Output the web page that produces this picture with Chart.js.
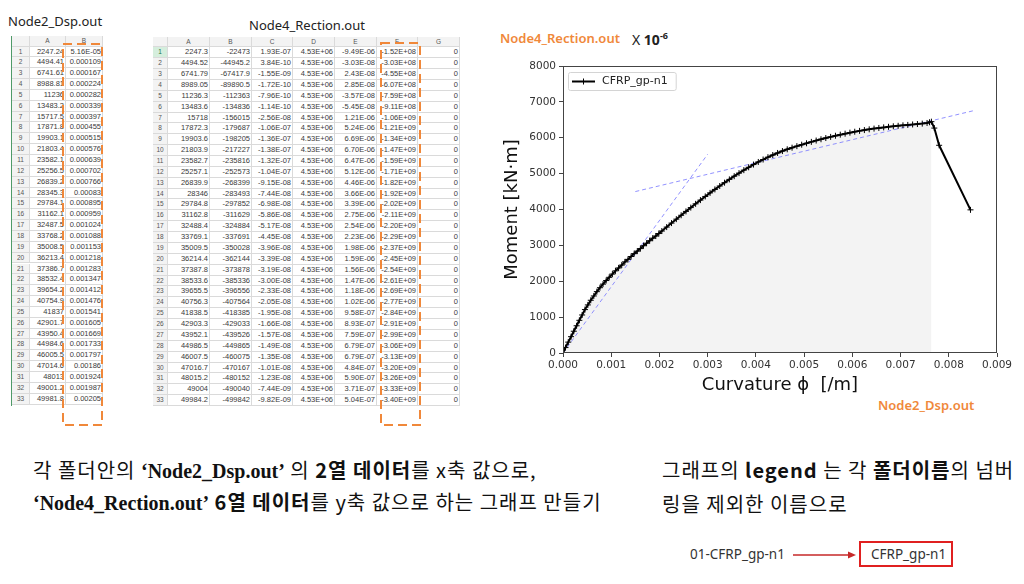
<!DOCTYPE html>
<html>
<head>
<meta charset="utf-8">
<script src="https://cdn.jsdelivr.net/npm/chart.js@4.4.0/dist/chart.umd.min.js"></script>
<style>
  body { margin: 0; width: 1024px; height: 584px; background: #fff; position: relative; overflow: hidden;
         font-family: "Noto Sans CJK KR", "Noto Sans", sans-serif; color: #111; }
  .abs { position: absolute; white-space: nowrap; }
  .cell { position: absolute; box-sizing: border-box; border-right: 1px solid #dadada; border-bottom: 1px solid #dadada;
          font-family: "Liberation Sans", Arial, sans-serif; font-size: 7.5px; color: #3a3a3a; text-align: right;
          overflow: hidden; white-space: nowrap; padding-right: 1px; }
  .hdr { background: #f3f3f3; color: #555; text-align: center; font-size: 6.5px; padding: 0; }
  .sel { background: #d5eedd; color: #217346; }
  .title { font-family: "Noto Sans", sans-serif; font-size: 13px; color: #222; }
  .orange { font-family: "Noto Sans", sans-serif; font-weight: 600; font-size: 13px; color: #f0883a; }
  .kr { font-size: 20px; line-height: 24px; letter-spacing: 1px; }
  .kr b { font-weight: 700; }
  .serif { font-family: "Liberation Serif", serif; font-weight: 700; letter-spacing: 0; }
  .small { font-family: "Noto Sans", sans-serif; font-size: 13.5px; color: #333; }
</style>
</head>
<body>
<div class="abs title" style="left:8px;top:12px;">Node2_Dsp.out</div>
<div class="abs title" style="left:249px;top:16px;">Node4_Rection.out</div>
<div id="sheets"></div>
<svg class="abs" style="left:0;top:0;" width="1024" height="584">
  <rect x="63" y="44" width="39" height="381" fill="none" stroke="#f0883a" stroke-width="2" stroke-dasharray="9,5"/>
  <rect x="381" y="43" width="39" height="382" fill="none" stroke="#f0883a" stroke-width="2" stroke-dasharray="9,5"/>
  <line x1="793" y1="555" x2="850" y2="555" stroke="#c62828" stroke-width="1.5"/>
  <polygon points="856,555 848,551.5 848,558.5" fill="#c62828"/>
  <rect x="860" y="542" width="92" height="24" fill="none" stroke="#e02020" stroke-width="2"/>
</svg>

<div class="abs orange" style="left:500px;top:29px;">Node4_Rection.out</div>
<div class="abs" style="left:632px;top:29px;font-family:'Noto Sans',sans-serif;font-size:14px;color:#222;">X <b>10<sup style="font-size:9px;">-6</sup></b></div>
<div class="abs orange" style="left:878px;top:396px;">Node2_Dsp.out</div>

<div style="position:absolute;left:490px;top:55px;width:530px;height:345px;">
  <canvas id="chart" width="530" height="345"></canvas>
</div>

<div class="abs kr" style="left:33px;top:458px;">각 폴더안의 <span class="serif">‘Node2_Dsp.out’</span> 의 <b>2열 데이터</b>를 x축 값으로,</div>
<div class="abs kr" style="left:33px;top:490px;"><span class="serif">‘Node4_Rection.out’</span> <b>6열 데이터</b>를 y축 값으로 하는 그래프 만들기</div>
<div class="abs kr" style="left:662px;top:458px;">그래프의 <b>legend</b> 는 각 <b>폴더이름</b>의 넘버</div>
<div class="abs kr" style="left:662px;top:492px;">링을 제외한 이름으로</div>
<div class="abs small" style="left:690px;top:545px;">01-CFRP_gp-n1</div>
<div class="abs small" style="left:871px;top:545px;">CFRP_gp-n1</div>

<script>
// ---- spreadsheet: Node2_Dsp.out ----
const dspA = ['2247.24','4494.41','6741.61','8988.81','11236','13483.2','15717.5','17871.8','19903.1','21803.4','23582.1',
  '25256.5','26839.2','28345.3','29784.1','31162.1','32487.5','33768.2','35008.5','36213.4','37386.7','38532.4',
  '39654.2','40754.9','41837','42901.7','43950.4','44984.6','46005.5','47014.6','48013','49001.2','49981.8'];
const dspB = ['5.16E-05','0.000109','0.000167','0.000224','0.000282','0.000339','0.000397','0.000455','0.000515',
  '0.000576','0.000639','0.000702','0.000766','0.00083','0.000895','0.000959','0.001024','0.001088','0.001153',
  '0.001218','0.001283','0.001347','0.001412','0.001476','0.001541','0.001605','0.001669','0.001733','0.001797',
  '0.00186','0.001924','0.001987','0.00205'];

// ---- spreadsheet: Node4_Rection.out ----
const recA = ['2247.3','4494.52','6741.79','8989.05','11236.3','13483.6','15718','17872.3','19903.6','21803.9','23582.7',
  '25257.1','26839.9','28346','29784.8','31162.8','32488.4','33769.1','35009.5','36214.4','37387.8','38533.6',
  '39655.5','40756.3','41838.5','42903.3','43952.1','44986.5','46007.5','47016.7','48015.2','49004','49984.2'];
const recB = ['-22473','-44945.2','-67417.9','-89890.5','-112363','-134836','-156015','-179687','-198205','-217227',
  '-235816','-252573','-268399','-283493','-297852','-311629','-324884','-337691','-350028','-362144','-373878',
  '-385336','-396556','-407564','-418385','-429033','-439526','-449865','-460075','-470167','-480152','-490040','-499842'];
const recC = ['1.93E-07','3.84E-10','-1.55E-09','-1.72E-10','-7.96E-10','-1.14E-10','-2.56E-08','-1.06E-07','-1.36E-07',
  '-1.38E-07','-1.32E-07','-1.04E-07','-9.15E-08','-7.44E-08','-6.98E-08','-5.86E-08','-5.17E-08','-4.45E-08',
  '-3.96E-08','-3.39E-08','-3.19E-08','-3.00E-08','-2.33E-08','-2.05E-08','-1.95E-08','-1.66E-08','-1.57E-08',
  '-1.49E-08','-1.35E-08','-1.01E-08','-1.23E-08','-7.44E-09','-9.82E-09'];
const recD = Array(33).fill('4.53E+06');
const recE = ['-9.49E-06','-3.03E-08','2.43E-08','2.85E-08','-3.57E-08','-5.45E-08','1.21E-06','5.24E-06','6.69E-06',
  '6.70E-06','6.47E-06','5.12E-06','4.46E-06','3.66E-06','3.39E-06','2.75E-06','2.54E-06','2.23E-06','1.98E-06',
  '1.59E-06','1.56E-06','1.47E-06','1.18E-06','1.02E-06','9.58E-07','8.93E-07','7.59E-07','6.79E-07','6.79E-07',
  '4.84E-07','5.90E-07','3.71E-07','5.04E-07'];
const recF = ['-1.52E+08','-3.03E+08','-4.55E+08','-6.07E+08','-7.59E+08','-9.11E+08','-1.06E+09','-1.21E+09',
  '-1.34E+09','-1.47E+09','-1.59E+09','-1.71E+09','-1.82E+09','-1.92E+09','-2.02E+09','-2.11E+09','-2.20E+09',
  '-2.29E+09','-2.37E+09','-2.45E+09','-2.54E+09','-2.61E+09','-2.69E+09','-2.77E+09','-2.84E+09','-2.91E+09',
  '-2.99E+09','-3.06E+09','-3.13E+09','-3.20E+09','-3.26E+09','-3.33E+09','-3.40E+09'];
const recG = Array(33).fill('0');

// ---- chart: curvature [1/m] vs moment [kN·m] ----
const curvature = [0, 0.0000516, 0.000109, 0.000167, 0.000224, 0.000282, 0.000339, 0.000397, 0.000455, 0.000515,
  0.000576, 0.000639, 0.000702, 0.000766, 0.00083, 0.000895, 0.000959, 0.001024, 0.001088, 0.001153, 0.001218,
  0.001283, 0.001347, 0.001412, 0.001476, 0.001541, 0.001605, 0.001669, 0.001733, 0.001797, 0.00186, 0.001924,
  0.001987, 0.00205,
  0.00215, 0.00225, 0.00235, 0.00245, 0.00255, 0.00265, 0.00275, 0.00285, 0.00295, 0.00305, 0.00315, 0.00325,
  0.00335, 0.00345, 0.00355, 0.00365, 0.00375, 0.00385, 0.00395, 0.00405, 0.00415, 0.00425, 0.00435, 0.00445,
  0.00455, 0.00465, 0.00475, 0.00485, 0.00495, 0.00505, 0.00515, 0.00525, 0.00535, 0.00545, 0.00555, 0.00565,
  0.00575, 0.00585, 0.00595, 0.00605, 0.00615, 0.00625, 0.00635, 0.00645, 0.00655, 0.00665, 0.00675, 0.00685,
  0.00695, 0.00705, 0.00715, 0.00725, 0.00735, 0.00745, 0.00755, 0.0076, 0.00764,
  0.0077, 0.0078, 0.00845];
const moment = [0, 152, 303, 455, 607, 759, 911, 1060, 1210, 1340, 1470, 1590, 1710, 1820, 1920, 2020, 2110, 2200,
  2290, 2370, 2450, 2540, 2610, 2690, 2770, 2840, 2910, 2990, 3060, 3130, 3200, 3260, 3330, 3400,
  3510, 3621, 3731, 3839, 3947, 4053, 4158, 4262, 4364, 4463, 4560, 4655, 4748, 4839, 4928, 5014, 5097, 5177,
  5253, 5325, 5393, 5458, 5519, 5576, 5629, 5678, 5723, 5766, 5807, 5846, 5885, 5922, 5958, 5992, 6024, 6056,
  6086, 6114, 6142, 6168, 6192, 6214, 6235, 6255, 6273, 6289, 6305, 6319, 6333, 6346, 6358, 6370, 6382, 6394,
  6412, 6432, 6448,
  6270, 5790, 3990];
const peakIndex = 90; // last point before the drop (shaded area ends here)

// dashed reference lines (two-point tangents)
const tangent1X = [0, 0.003];
const tangent1Y = [0, 5540];
const tangent2X = [0.0015, 0.0085];
const tangent2Y = [4500, 6750];

const seriesLabel = 'CFRP_gp-n1';

// ---- build spreadsheets ----
function makeSheet(left, top, widths, headerH, rowH, headers, cols, selectFirst) {
  const host = document.getElementById('sheets');
  const add = (x, y, w, h, text, cls) => {
    const d = document.createElement('div');
    d.className = 'cell ' + (cls || '');
    d.style.left = x + 'px'; d.style.top = y + 'px';
    d.style.width = w + 'px'; d.style.height = h + 'px';
    d.style.lineHeight = (h - 1) + 'px';
    d.textContent = text;
    host.appendChild(d);
  };
  let x = left;
  headers.forEach((h, i) => { add(x, top, widths[i], headerH, h, 'hdr'); x += widths[i]; });
  for (let r = 0; r < cols[0].length; r++) {
    const y = top + headerH + r * rowH;
    x = left;
    add(x, y, widths[0], rowH, String(r + 1), 'hdr' + (selectFirst && r === 0 ? ' sel' : ''));
    x += widths[0];
    cols.forEach((c, i) => { add(x, y, widths[i + 1], rowH, c[r], ''); x += widths[i + 1]; });
  }
}
makeSheet(12, 36, [18, 36, 37], 10.5, 10.85, ['', 'A', 'B'], [dspA, dspB], false);
makeSheet(153, 37, [15, 42, 42, 41, 42, 42, 41, 42], 10.3, 10.87,
  ['', 'A', 'B', 'C', 'D', 'E', 'F', 'G'], [recA, recB, recC, recD, recE, recF, recG], true);
{
  const g = document.createElement('div');
  g.style.cssText = 'position:absolute;left:11px;top:36px;width:1px;height:370px;background:#4f9a68;';
  document.getElementById('sheets').appendChild(g);
}

// ---- chart ----
const pts = (xs, ys) => xs.map((x, i) => ({ x: x, y: ys[i] }));

const frameAndLegend = {
  id: 'frameAndLegend',
  afterDraw(chart) {
    const { ctx, chartArea: a } = chart;
    ctx.save();
    ctx.strokeStyle = '#444';
    ctx.lineWidth = 1;
    ctx.strokeRect(Math.round(a.left) + 0.5, Math.round(a.top) + 0.5,
                   Math.round(a.width) - 1, Math.round(a.height) - 1);
    // legend box
    ctx.font = '11px "DejaVu Sans"';
    const label = chart.data.datasets[0].label;
    const bx = a.left + 5, by = a.top + 6;
    const bw = 36 + ctx.measureText(label).width + 6, bh = 18;
    ctx.beginPath();
    ctx.roundRect(bx + 0.5, by + 0.5, bw, bh, 2);
    ctx.fillStyle = 'rgba(255,255,255,0.85)';
    ctx.fill();
    ctx.strokeStyle = '#d4d4d4';
    ctx.stroke();
    const ly = by + bh / 2 + 0.5;
    ctx.strokeStyle = '#000';
    ctx.lineWidth = 2;
    ctx.beginPath(); ctx.moveTo(bx + 4, ly); ctx.lineTo(bx + 27, ly); ctx.stroke();
    ctx.lineWidth = 1;
    ctx.beginPath();
    ctx.moveTo(bx + 15.5, ly - 3); ctx.lineTo(bx + 15.5, ly + 3);
    ctx.moveTo(bx + 12.5, ly); ctx.lineTo(bx + 18.5, ly);
    ctx.stroke();
    ctx.fillStyle = '#222';
    ctx.textBaseline = 'middle';
    ctx.fillText(label, bx + 34, ly);
    ctx.restore();
  }
};

new Chart(document.getElementById('chart'), {
  type: 'line',
  data: {
    datasets: [
      {
        label: seriesLabel,
        data: pts(curvature, moment),
        borderColor: '#000',
        borderWidth: 2,
        pointStyle: 'cross',
        pointRadius: 3,
        pointBorderWidth: 1,
        pointBorderColor: '#000',
        fill: false,
        tension: 0
      },
      {
        label: 'tangent1',
        data: pts(tangent1X, tangent1Y),
        borderColor: 'rgba(110,110,255,0.75)',
        borderWidth: 1,
        borderDash: [4, 3],
        pointRadius: 0,
        fill: false
      },
      {
        label: 'tangent2',
        data: pts(tangent2X, tangent2Y),
        borderColor: 'rgba(110,110,255,0.75)',
        borderWidth: 1,
        borderDash: [4, 3],
        pointRadius: 0,
        fill: false
      },
      {
        label: 'area',
        data: pts(curvature.slice(0, peakIndex + 1), moment.slice(0, peakIndex + 1)),
        borderWidth: 0,
        borderColor: 'rgba(0,0,0,0)',
        backgroundColor: '#f3f3f3',
        pointRadius: 0,
        fill: 'origin'
      }
    ]
  },
  options: {
    responsive: false,
    animation: false,
    layout: { padding: { top: 11, right: 23, bottom: 0, left: 0 } },
    plugins: { legend: { display: false }, tooltip: { enabled: false } },
    scales: {
      x: {
        type: 'linear',
        min: 0,
        max: 0.009,
        border: { display: false },
        grid: { drawOnChartArea: false, tickLength: 4, color: '#444' },
        ticks: {
          stepSize: 0.001,
          padding: 2,
          maxRotation: 0,
          color: '#333',
          font: { family: 'DejaVu Sans', size: 10.5 },
          callback: v => v.toFixed(3)
        },
        title: {
          display: true,
          text: 'Curvature \u03D5  [/m]',
          color: '#111',
          font: { family: 'DejaVu Sans', size: 18 },
          padding: { top: 0, bottom: 4 }
        },
        afterFit: s => { s.height = 47; }
      },
      y: {
        min: 0,
        max: 8000,
        border: { display: false },
        grid: { drawOnChartArea: false, tickLength: 4, color: '#444' },
        ticks: {
          stepSize: 1000,
          padding: 3,
          color: '#333',
          font: { family: 'DejaVu Sans', size: 10.5 },
          callback: v => String(v)
        },
        title: {
          display: true,
          text: 'Moment [kN\u00B7m]',
          color: '#111',
          font: { family: 'DejaVu Sans', size: 18 },
          padding: { top: 12, bottom: 0 }
        },
        afterFit: s => { s.width = 73; }
      }
    }
  },
  plugins: [frameAndLegend]
});
</script>
</body>
</html>
